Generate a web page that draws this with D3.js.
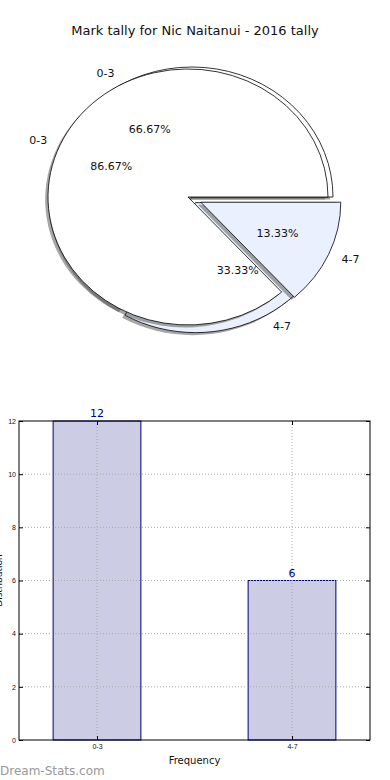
<!DOCTYPE html>
<html>
<head>
<meta charset="utf-8">
<script src="https://cdn.jsdelivr.net/npm/d3@7"></script>
<style>
	body { margin: 0; background: #fff; }
	svg { display: block; font-family: "DejaVu Sans", sans-serif; }
</style>
</head>
<body>
<script>
const categories = ["0-3", "4-7"];
const tallyA = [12, 6];     // outer pie, 66.67 / 33.33
const tallyB = [13, 2];     // second pie, 86.67 / 13.33
const explodeA = [0, 0.05];
const explodeB = [0, 0.1];
const barValues = [12, 6];
const yTicks = [0, 2, 4, 6, 8, 10, 12];

const W = 390, H = 780;
const svg = d3.select("body").append("svg")
	.attr("width", W)
	.attr("height", H);

svg.append("text")
	.attr("x", 195).attr("y", 35)
	.attr("text-anchor", "middle")
	.attr("font-size", 13)
	.attr("fill", "#111")
	.text("Mark tally for Nic Naitanui - 2016 tally");

const fills = ["#ffffff", "#eaf0fd"];

// matplotlib style pie: starts at 3 o'clock, runs counter-clockwise, squashed to an ellipse
const pie = d3.pie().sort(null).startAngle(Math.PI / 2).endAngle(Math.PI / 2 - 2 * Math.PI);
const arc = d3.arc().innerRadius(0).outerRadius(1);

const texts = [];

function drawpie(values, explode, c) {
	const total = d3.sum(values);
	const slices = pie(values);

	slices.forEach((s, i) => {
		const mid = (s.startAngle + s.endAngle) / 2;
		const ex = c.cx + explode[i] * c.rx * Math.sin(mid);
		const ey = c.cy - explode[i] * c.ry * Math.cos(mid);

		svg.append("path")
			.attr("d", arc(s))
			.attr("transform", `translate(${ex - 2.8},${ey + 2.6})scale(${c.rx},${c.ry})`)
			.attr("fill", "#4d4d4d")
			.attr("fill-opacity", 0.5);

		svg.append("path")
			.attr("d", arc(s))
			.attr("transform", `translate(${ex},${ey})scale(${c.rx},${c.ry})`)
			.attr("fill", fills[i])
			.attr("stroke", "#000")
			.attr("stroke-width", 0.8)
			.attr("vector-effect", "non-scaling-stroke");

		const lx = ex + 1.1 * c.rx * Math.sin(mid);
		const ly = ey - 1.1 * c.ry * Math.cos(mid);
		texts.push({ x: lx, y: ly, t: categories[i], anchor: Math.sin(mid) > 0 ? "start" : "end" });

		const px = ex + 0.6 * c.rx * Math.sin(mid);
		const py = ey - 0.6 * c.ry * Math.cos(mid);
		texts.push({ x: px, y: py, t: (100 * values[i] / total).toFixed(2) + "%", anchor: "middle" });
	});
};

drawpie(tallyA, explodeA, { cx: 192, cy: 197, rx: 141, ry: 130 });
drawpie(tallyB, explodeB, { cx: 188, cy: 197, rx: 140, ry: 128 });

svg.append("g").selectAll("text")
	.data(texts)
	.enter().append("text")
	.attr("x", d => d.x)
	.attr("y", d => d.y)
	.attr("dy", "0.35em")
	.attr("text-anchor", d => d.anchor)
	.attr("font-size", 11)
	.attr("fill", "#111")
	.text(d => d.t);

// bar chart
const m = { left: 19, right: 370, top: 421, bottom: 740 };

const x = d3.scaleLinear().domain([-0.4, 1.4]).range([m.left, m.right]);
const y = d3.scaleLinear().domain([0, 12]).range([m.bottom, m.top]);
const bw = x(0.45) - x(0);

svg.append("g").selectAll("rect")
	.data(barValues)
	.enter().append("rect")
	.attr("x", (d, i) => x(i) - bw / 2)
	.attr("y", d => y(d))
	.attr("width", bw)
	.attr("height", d => y(0) - y(d))
	.attr("fill", "#ccccE5")
	.attr("stroke", "#000080")
	.attr("stroke-width", 1);

svg.append("g")
	.selectAll("line")
	.data(yTicks.slice(1, -1))
	.enter().append("line")
	.attr("x1", m.left).attr("x2", m.right)
	.attr("y1", d => y(d)).attr("y2", d => y(d))
	.attr("stroke", "#aaa")
	.attr("stroke-dasharray", "1,2");

svg.append("g")
	.selectAll("line")
	.data(categories)
	.enter().append("line")
	.attr("x1", (d, i) => x(i)).attr("x2", (d, i) => x(i))
	.attr("y1", m.top).attr("y2", m.bottom)
	.attr("stroke", "#aaa")
	.attr("stroke-dasharray", "1,2");

svg.append("g").selectAll("text")
	.data(barValues)
	.enter().append("text")
	.attr("x", (d, i) => x(i))
	.attr("y", d => y(d) - 4)
	.attr("text-anchor", "middle")
	.attr("font-size", 11)
	.attr("fill", "#000080")
	.text(d => d);

const yl = d3.axisLeft(y).tickValues(yTicks).tickSize(-4).tickPadding(3);
const yr = d3.axisRight(y).tickValues(yTicks).tickSize(-4).tickFormat("");
const xb = d3.axisBottom(x).tickValues([0, 1]).tickSize(-4).tickPadding(4).tickFormat((d, i) => categories[i]);
const xt = d3.axisTop(x).tickValues([0, 1]).tickSize(-4).tickFormat("");

function style(g) {
	g.select(".domain").remove();
	g.selectAll("line").attr("stroke", "#000");
	g.selectAll("text").attr("font-size", 7).attr("fill", "#111");
};

svg.append("g").attr("transform", `translate(${m.left},0)`).call(yl).call(style);
svg.append("g").attr("transform", `translate(${m.right},0)`).call(yr).call(style);
svg.append("g").attr("transform", `translate(0,${m.bottom})`).call(xb).call(style);
svg.append("g").attr("transform", `translate(0,${m.top})`).call(xt).call(style);

svg.append("rect")
	.attr("x", m.left).attr("y", m.top)
	.attr("width", m.right - m.left).attr("height", m.bottom - m.top)
	.attr("fill", "none")
	.attr("stroke", "#000")
	.attr("stroke-width", 1);

svg.append("text")
	.attr("x", (m.left + m.right) / 2).attr("y", 764)
	.attr("text-anchor", "middle")
	.attr("font-size", 10)
	.attr("fill", "#111")
	.text("Frequency");

// the reference cuts this label off at the left edge, only a sliver shows
svg.append("text")
	.attr("transform", `translate(2,${(m.top + m.bottom) / 2})rotate(-90)`)
	.attr("text-anchor", "middle")
	.attr("font-size", 9)
	.attr("fill", "#111")
	.text("Distribution");

svg.append("text")
	.attr("x", 0).attr("y", 775)
	.attr("font-size", 12)
	.attr("fill", "#999")
	.text("Dream-Stats.com");
</script>
</body>
</html>
